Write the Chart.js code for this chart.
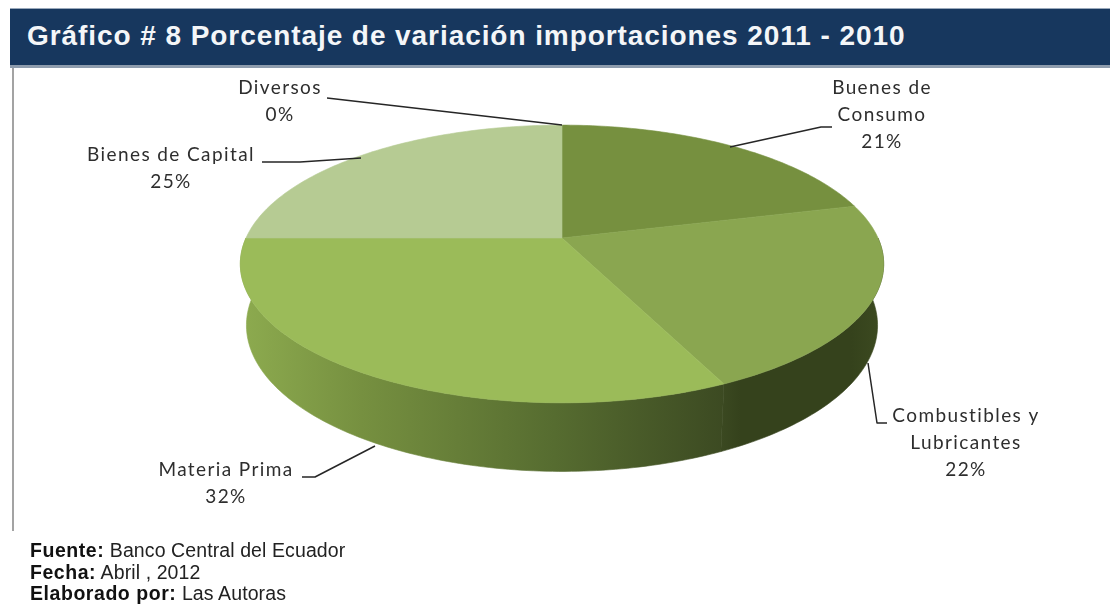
<!DOCTYPE html>
<html lang="es">
<head>
<meta charset="utf-8">
<title>Gráfico # 8</title>
<script src="https://cdn.jsdelivr.net/npm/chart.js@4"></script>
<style>
html,body{margin:0;padding:0;background:#fff;width:1110px;height:604px;overflow:hidden}
#wrap{position:relative;width:1110px;height:604px;filter:blur(.45px)}
#bar{position:absolute;left:10px;top:8px;width:1100px;height:60px;background:#17375e;border-top:1px solid #9aa9bb;border-bottom:3px solid #8e9cad;box-sizing:border-box}
#ttl{position:absolute;left:27px;top:20px;font:bold 28px "Liberation Sans",Arial,sans-serif;color:#f4f6f8;white-space:nowrap;letter-spacing:.93px}
#rule{position:absolute;left:12px;top:68px;width:2px;height:463px;background:#a3a3a3}
#foot{position:absolute;left:30px;top:540px;font:19.5px/21.5px "Liberation Sans",Arial,sans-serif;color:#222;white-space:nowrap;letter-spacing:.1px}
#foot b{color:#111;letter-spacing:.55px}
canvas{position:absolute;left:0;top:0}
</style>
</head>
<body>
<div id="wrap">
<canvas id="c" width="1110" height="604"></canvas>
<div id="bar"></div>
<div id="ttl">Gráfico # 8 Porcentaje de variación importaciones 2011 - 2010</div>
<div id="rule"></div>
<div id="foot"><b>Fuente:</b> Banco Central del Ecuador<br><b>Fecha:</b> Abril , 2012<br><b>Elaborado por:</b> Las Autoras</div>
</div>
<script>
const categories = ["Buenes de Consumo","Combustibles y Lubricantes","Materia Prima","Bienes de Capital","Diversos"];
const shares = [21,22,32,25,0];
const topColors = ["#76903f","#8aa650","#9bbb59","#b6cb93","#d3dfbc"];
const labelLines = [["Buenes de","Consumo","21%"],["Combustibles y","Lubricantes","22%"],["Materia Prima","32%"],["Bienes de Capital","25%"],["Diversos","0%"]];

const labelAnchors = [[882,88],[966,416],[226,470],[171,155],[280,88]];
const leaders = [
  [[832,127],[821,127],[730,147]],
  [[868,363],[877,423],[887,423]],
  [[302,477],[315,477],[375,446]],
  [[262,162],[300,162],[361,158]],
  [[327,98],[562,125]]
];
const sideStops = [
  null,
  [[0,"#3b4921"],[.12,"#35421c"],[.8,"#35421c"],[1,"#3d4b21"]],
  [[0,"#8dab4f"],[.25,"#769040"],[.65,"#566c30"],[1,"#3c4a22"]],
  null,null
];
const topDisc = {x0:562,y0:238,A:316,B:134,k:.187};
const baseDisc = {x0:562,y0:298,A:310,B:141,k:.187};

function project(d,a){
  const u=Math.cos(a),v=Math.sin(a),w=1-d.k*v;
  return [d.x0+d.A*u/w,d.y0+d.B*v/w];
}
function arcPts(d,a0,a1){
  const n=Math.max(2,Math.ceil((a1-a0)*60)),p=[];
  for(let i=0;i<=n;i++)p.push(project(d,a0+(a1-a0)*i/n));
  return p;
}

const pie3d = {
  id:"pie3d",
  beforeDatasetsDraw(chart){
    const ctx=chart.ctx,arcs=chart.getDatasetMeta(0).data;
    ctx.save();
    arcs.forEach((el,i)=>{
      const stops=sideStops[i];
      if(!stops||el.endAngle-el.startAngle<=0)return;
      const a0=Math.max(el.startAngle,0),a1=Math.min(el.endAngle,Math.PI);
      if(a1<=a0)return;
      const t=arcPts(topDisc,a0,a1),b=arcPts(baseDisc,a0,a1);
      const xs=t.concat(b).map(p=>p[0]);
      const g=ctx.createLinearGradient(Math.min(...xs),0,Math.max(...xs),0);
      stops.forEach(s=>g.addColorStop(s[0],s[1]));
      ctx.beginPath();
      t.forEach((p,j)=>j?ctx.lineTo(p[0],p[1]):ctx.moveTo(p[0],p[1]));
      b.reverse().forEach(p=>ctx.lineTo(p[0],p[1]));
      ctx.closePath();
      ctx.fillStyle=g;ctx.strokeStyle=g;ctx.lineWidth=.6;
      ctx.fill();ctx.stroke();
    });
    arcs.forEach(el=>{
      if(el.endAngle-el.startAngle<=0)return;
      const p=arcPts(topDisc,el.startAngle,el.endAngle);
      ctx.beginPath();
      ctx.moveTo(topDisc.x0,topDisc.y0);
      p.forEach(q=>ctx.lineTo(q[0],q[1]));
      ctx.closePath();
      ctx.fillStyle=el.options.backgroundColor;
      ctx.strokeStyle=el.options.backgroundColor;
      ctx.lineWidth=.6;
      ctx.fill();ctx.stroke();
    });
    ctx.strokeStyle="#262626";ctx.lineWidth=1.5;ctx.lineJoin="round";
    leaders.forEach(l=>{
      ctx.beginPath();
      l.forEach((p,j)=>j?ctx.lineTo(p[0],p[1]):ctx.moveTo(p[0],p[1]));
      ctx.stroke();
    });
    ctx.fillStyle="#2e2e2e";
    ctx.font='19px Lato, sans-serif';
    ctx.letterSpacing="1.4px";
    ctx.textAlign="center";ctx.textBaseline="middle";
    labelLines.forEach((lines,i)=>{
      lines.forEach((s,j)=>ctx.fillText(s,labelAnchors[i][0],labelAnchors[i][1]+j*27));
    });
    ctx.restore();
    return false;
  }
};

new Chart(document.getElementById("c"),{
  type:"pie",
  data:{labels:categories,datasets:[{data:shares,backgroundColor:topColors,borderWidth:0}]},
  options:{
    responsive:false,animation:false,
    plugins:{legend:{display:false},tooltip:{enabled:false},title:{display:false}}
  },
  plugins:[pie3d]
});
</script>
</body>
</html>
